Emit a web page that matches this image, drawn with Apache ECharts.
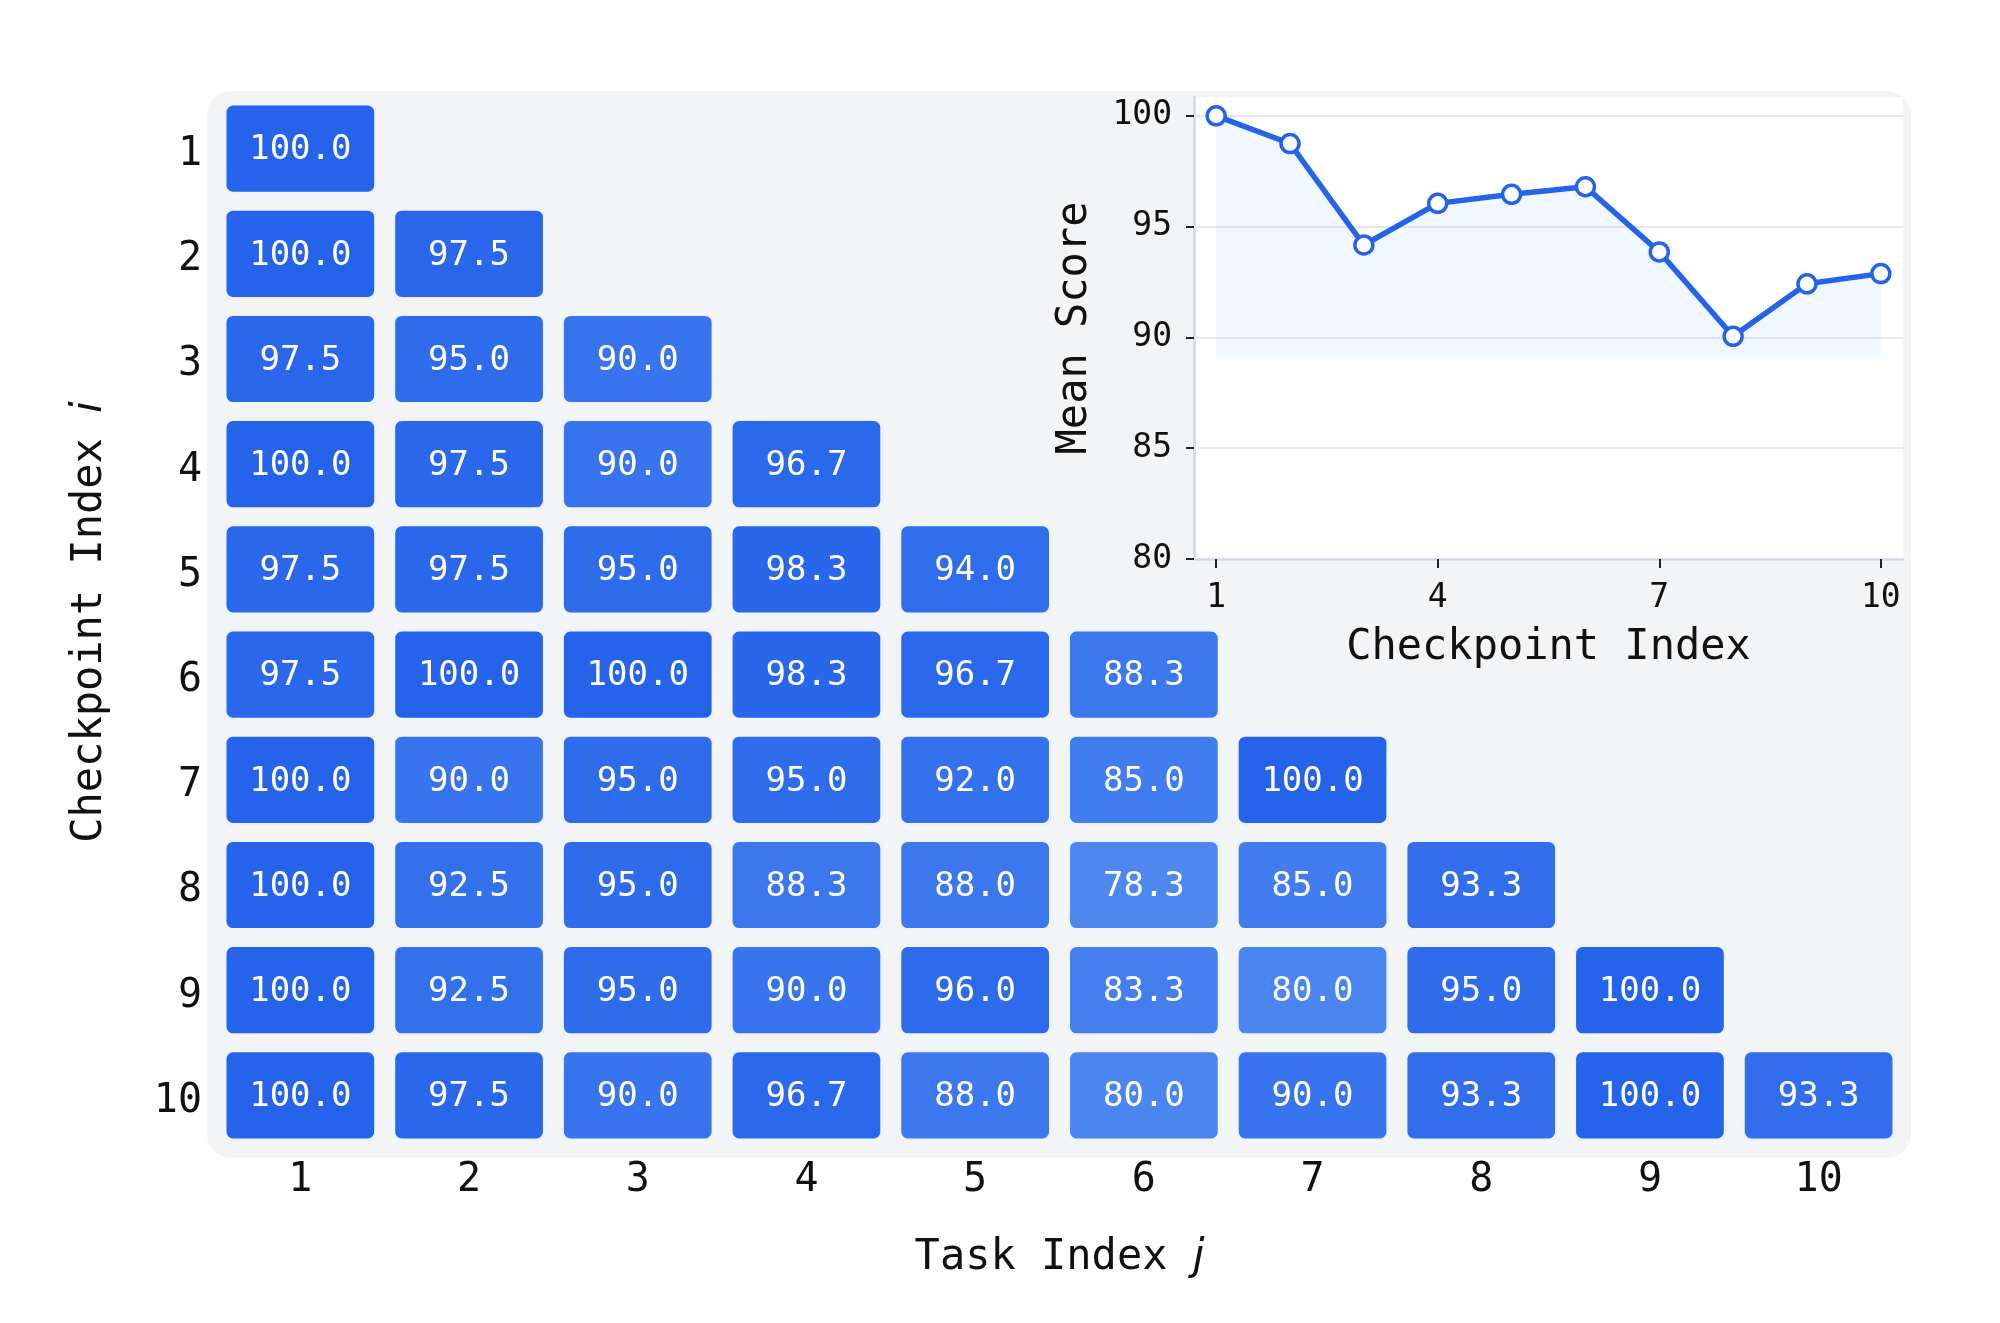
<!DOCTYPE html>
<html>
<head>
<meta charset="utf-8">
<script src="https://cdn.jsdelivr.net/npm/echarts@6/dist/echarts.min.js"></script>
<style>
  html, body { margin: 0; padding: 0; background: #fff; }
  #chart { width: 2000px; height: 1323px; }
</style>
</head>
<body>
<div id="chart"></div>
<script>
const taskLabels = ['1', '2', '3', '4', '5', '6', '7', '8', '9', '10']
const checkpointLabels = ['1', '2', '3', '4', '5', '6', '7', '8', '9', '10']
// row i = scores of checkpoint i on tasks 1..i
const scores = [
  [100.0],
  [100.0, 97.5],
  [97.5, 95.0, 90.0],
  [100.0, 97.5, 90.0, 96.7],
  [97.5, 97.5, 95.0, 98.3, 94.0],
  [97.5, 100.0, 100.0, 98.3, 96.7, 88.3],
  [100.0, 90.0, 95.0, 95.0, 92.0, 85.0, 100.0],
  [100.0, 92.5, 95.0, 88.3, 88.0, 78.3, 85.0, 93.3],
  [100.0, 92.5, 95.0, 90.0, 96.0, 83.3, 80.0, 95.0, 100.0],
  [100.0, 97.5, 90.0, 96.7, 88.0, 80.0, 90.0, 93.3, 100.0, 93.3]
]
const checkpointIdx = [1, 2, 3, 4, 5, 6, 7, 8, 9, 10]
const meanScores = [100.0, 98.75, 94.17, 96.05, 96.46, 96.8, 93.86, 90.05, 92.42, 92.88]
const insetXTicks = [1, 4, 7, 10]
const insetYTicks = [80, 85, 90, 95, 100]
const gridValues = [85, 90, 95, 100]
const fillBase = 89

const mono = '"DejaVu Sans Mono", monospace'

const cells = []
scores.forEach((row, i) => {
  row.forEach((v, j) => {
    cells.push([j, i, v])
  })
})

const chart = echarts.init(document.getElementById('chart'))

function renderCell(params, api) {
  const c = api.coord([api.value(0), api.value(1)])
  const s = api.size([1, 1])
  const w = s[0] - 18
  const h = s[1] - 16
  return {
    type: 'group',
    children: [
      {
        type: 'rect',
        shape: { x: c[0] - w / 2, y: c[1] - h / 2, width: w, height: h, r: 8 },
        style: { fill: api.visual('color'), stroke: '#edf4fe', lineWidth: 3 }
      },
      {
        type: 'text',
        style: {
          text: api.value(2).toFixed(1),
          x: c[0],
          y: c[1] + 2,
          align: 'center',
          verticalAlign: 'middle',
          fill: '#fff',
          font: '34px ' + mono
        }
      }
    ]
  }
}

const option = {
  animation: false,
  backgroundColor: '#fff',
  textStyle: { fontFamily: mono },
  graphic: {
    elements: [
      {
        type: 'rect',
        z: -10,
        shape: { x: 207, y: 91, width: 1704, height: 1067, r: 24 },
        style: { fill: '#f3f4f6' }
      }
    ]
  },
  visualMap: {
    show: false,
    seriesIndex: 0,
    dimension: 2,
    min: 78.3,
    max: 100,
    inRange: { color: ['#4e88ef', '#2563eb'] }
  },
  grid: [
    { left: 216, right: 97, top: 96, bottom: 175 },
    {
      left: 1194, right: 97, top: 97, bottom: 764,
      show: true, backgroundColor: '#fff', borderWidth: 0
    }
  ],
  xAxis: [
    {
      type: 'category',
      gridIndex: 0,
      data: taskLabels,
      axisLine: { show: false },
      axisTick: { show: false },
      axisLabel: { fontSize: 40, color: '#111', margin: 13, fontFamily: mono },
      name: 'Task Index {i|j}',
      nameLocation: 'middle',
      nameGap: 89,
      nameTextStyle: {
        fontSize: 42, color: '#111', fontFamily: mono,
        rich: { i: { fontSize: 42, fontStyle: 'italic', fontFamily: 'DejaVu Sans', color: '#111' } }
      }
    },
    {
      type: 'value',
      gridIndex: 1,
      min: 0.7,
      max: 10.3,
      splitLine: { show: false },
      axisLine: { show: true, lineStyle: { color: '#cfd8e3', width: 2.5 } },
      axisTick: { show: true, length: 9, customValues: insetXTicks, lineStyle: { color: '#222', width: 2 } },
      axisLabel: { customValues: insetXTicks, fontSize: 33, color: '#111', margin: 23, fontFamily: mono },
      name: 'Checkpoint Index',
      nameLocation: 'middle',
      nameGap: 68,
      nameTextStyle: { fontSize: 42, color: '#111', fontFamily: mono }
    }
  ],
  yAxis: [
    {
      type: 'category',
      gridIndex: 0,
      data: checkpointLabels,
      inverse: true,
      axisLine: { show: false },
      axisTick: { show: false },
      axisLabel: {
        margin: 14,
        formatter: v => '{n|' + v + '}',
        rich: { n: { fontSize: 40, color: '#111', fontFamily: mono, padding: [12, 0, 0, 0] } }
      },
      name: 'Checkpoint Index {i|i}',
      nameLocation: 'middle',
      nameGap: 105,
      nameTextStyle: {
        fontSize: 42, color: '#111', fontFamily: mono,
        rich: { i: { fontSize: 42, fontStyle: 'italic', fontFamily: 'DejaVu Sans', color: '#111' } }
      }
    },
    {
      type: 'value',
      gridIndex: 1,
      min: 80,
      max: 100.85,
      interval: 5,
      splitLine: { show: false },
      axisLine: { show: true, lineStyle: { color: '#cfd8e3', width: 2.5 } },
      axisTick: { show: true, length: 8, customValues: insetYTicks, lineStyle: { color: '#222', width: 2 } },
      axisLabel: { customValues: insetYTicks, fontSize: 33, color: '#111', margin: 22, fontFamily: mono },
      name: 'Mean Score',
      nameLocation: 'middle',
      nameGap: 98,
      nameTextStyle: { fontSize: 42, color: '#111', fontFamily: mono }
    }
  ],
  series: [
    {
      type: 'custom',
      xAxisIndex: 0,
      yAxisIndex: 0,
      renderItem: renderCell,
      data: cells
    },
    {
      type: 'line',
      xAxisIndex: 1,
      yAxisIndex: 1,
      data: meanScores.map((v, i) => [checkpointIdx[i], v]),
      symbol: 'circle',
      symbolSize: 18,
      lineStyle: { color: '#2563eb', width: 5.5 },
      itemStyle: { color: '#fff', borderColor: '#2563eb', borderWidth: 3.5 },
      areaStyle: { origin: fillBase, color: 'rgba(147,197,253,0.2)' },
      markLine: {
        silent: true,
        symbol: 'none',
        z: 1,
        label: { show: false },
        lineStyle: { color: '#e3e7ee', width: 2, type: 'solid' },
        data: gridValues.map(v => ({ yAxis: v }))
      }
    }
  ]
}

chart.setOption(option)
</script>
</body>
</html>
